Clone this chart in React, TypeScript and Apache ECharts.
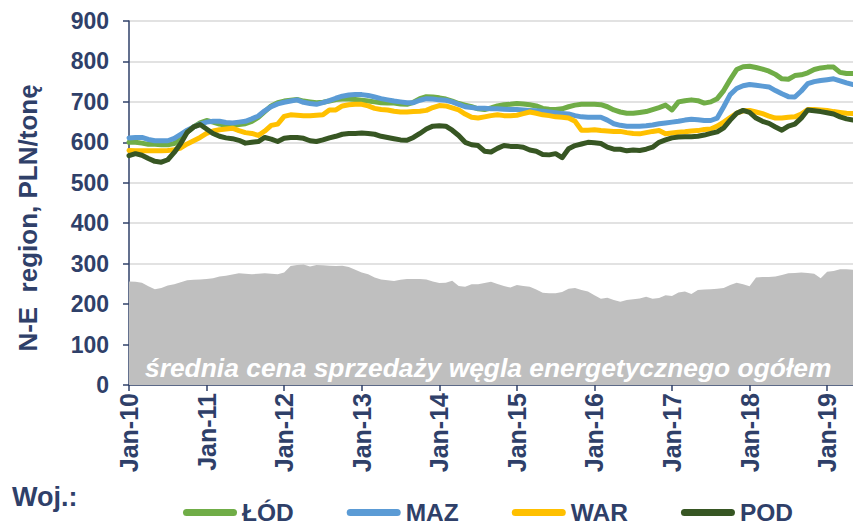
import React, { useEffect, useRef } from "react";
import * as echarts from "echarts";

const years = ["10", "11", "12", "13", "14", "15", "16", "17", "18", "19"];
const monthNames = ["Jan", "Feb", "Mar", "Apr", "May", "Jun", "Jul", "Aug", "Sep", "Oct", "Nov", "Dec"];
const lastMonthCount = 113;

const categories: string[] = [];
for (const y of years) {
  for (const m of monthNames) {
    if (categories.length < lastMonthCount) categories.push(`${m}-${y}`);
  }
}

const lod = [
  600, 600, 598, 595, 595, 594, 594, 597, 610, 625, 638, 648,
  654, 650, 645, 642, 642, 644, 646, 652, 662, 676, 690, 698,
  702, 704, 706, 702, 700, 698, 699, 702, 706, 707, 707, 706,
  704, 702, 700, 698, 697, 697, 695, 694, 699, 708, 713, 712,
  710, 707, 702, 696, 692, 688, 683, 681, 685, 690, 693, 694,
  696, 695, 693, 690, 684, 682, 681, 683, 688, 692, 694, 694,
  694, 693, 688, 680, 675, 672, 672, 674, 676, 681, 686, 692,
  680, 700, 703, 705, 703, 697, 700, 708, 728, 755, 780, 787,
  788, 785, 781, 776, 768, 757, 756, 765, 767, 772, 780, 784,
  786, 786, 773, 770, 770,
];

const maz = [
  611, 612, 612, 607, 604, 604, 604, 610, 620, 630, 638, 645,
  650, 652, 652, 649, 648, 650, 652, 658, 665, 678, 688, 695,
  699, 702, 705, 699, 696, 694, 698, 703, 709, 714, 717, 718,
  718, 716, 712, 708, 705, 702, 700, 698, 698, 704, 708, 707,
  705, 704, 700, 694, 688, 686, 684, 684, 683, 683, 682, 681,
  681, 680, 679, 678, 677, 675, 673, 671, 670, 666, 663, 662,
  662, 662, 655, 646, 642, 640, 640, 640, 641, 643, 646, 648,
  650, 652, 655, 657, 656, 654, 654, 660, 688, 718, 733, 740,
  743, 741, 739, 737, 728, 720, 713, 712, 727, 745, 750, 753,
  755, 757, 752, 747, 743,
];

const war = [
  580, 579, 579, 579, 579, 579, 580, 582, 586, 596, 604, 612,
  622, 628, 631, 633, 635, 629, 624, 622, 617, 628, 642, 645,
  664, 668, 667, 666, 666, 667, 668, 680, 680, 690, 693, 694,
  694, 690, 684, 681, 680, 677, 675, 675, 676, 677, 679, 686,
  691, 690, 685, 680, 670, 662, 660, 663, 666, 668, 666, 666,
  667, 671, 675, 672, 668, 666, 663, 662, 660, 652, 630, 630,
  631, 629, 628, 627, 627, 624, 622, 621, 624, 627, 629, 621,
  623, 625, 626, 628, 629, 632, 633, 640, 650, 661, 672, 678,
  679, 675, 671, 665, 660, 660, 662, 663, 670, 681, 681, 680,
  679, 676, 674, 672, 671,
];

const pod = [
  567, 572, 568, 560, 553, 551, 557, 575, 597, 625, 638, 644,
  633, 622, 615, 611, 609, 605, 598, 600, 602, 612, 608, 602,
  610, 612, 612, 610, 604, 602, 606, 611, 615, 620, 622, 622,
  623, 622, 620, 615, 612, 609, 606, 605, 612, 622, 633, 640,
  641, 640, 630, 617, 600, 594, 592, 578, 576, 585, 592, 590,
  590, 588, 581, 578, 570, 569, 572, 562, 584, 592, 596, 600,
  599, 597, 588, 583, 583, 579, 581, 580, 583, 588, 600, 606,
  611, 613, 614, 614, 615, 618, 622, 626, 636, 655, 672, 679,
  674, 660, 652, 647, 638, 630, 640, 645, 660, 680, 678, 676,
  673, 670, 663, 658, 655,
];

const avg = [
  256, 255, 253, 244, 237, 240, 246, 249, 254, 259, 260, 261,
  262, 264, 268, 270, 273, 276, 275, 274, 275, 276, 275, 274,
  278, 294, 297, 298, 293, 297, 296, 295, 294, 295, 292, 285,
  278, 274, 266, 261, 259, 257, 260, 262, 262, 262, 261, 256,
  252, 253, 258, 245, 243, 249, 249, 252, 255, 250, 245, 241,
  247, 245, 243, 236, 228, 227, 227, 230, 238, 240, 235, 231,
  222, 213, 216, 210, 206, 210, 212, 214, 218, 213, 215, 222,
  220, 229, 231, 225, 235, 236, 237, 238, 240, 247, 253, 249,
  244, 266, 267, 267, 268, 272, 276, 277, 278, 277, 275, 264,
  280, 282, 286, 286, 285,
];

const seriesNames = ["ŁÓD", "MAZ", "WAR", "POD"];
const seriesColors = ["#70AD47", "#5B9BD5", "#FFC000", "#375623"];
const seriesData = [lod, maz, war, pod];

const yTitle = "N-E  region, PLN/tonę";
const areaLabel = "średnia cena sprzedaży węgla energetycznego ogółem";
const legendTitle = "Woj.:";

const NAVY = "#2F4069";
const FONT = "'Liberation Sans', Arial, sans-serif";
const capsule = "path://M3.5,0L50.5,0A3.5,3.5,0,0,1,50.5,7L3.5,7A3.5,3.5,0,0,1,3.5,0Z";

export default function App() {
  const ref = useRef<HTMLDivElement>(null);
  useEffect(() => {
    if (!ref.current) return;
    const chart = echarts.init(ref.current, undefined, { renderer: "svg" });
    const janOnly = (index: number) => index % 12 === 0;
    chart.setOption({
      animation: false,
      backgroundColor: "#ffffff",
      textStyle: { fontFamily: FONT },
      grid: { left: 129, right: 0, top: 21, bottom: 141, outerBoundsMode: "none" },
      legend: {
        data: seriesNames,
        left: 183,
        top: 500,
        itemGap: 53,
        itemWidth: 54,
        itemHeight: 7,
        padding: 0,
        icon: capsule,
        textStyle: { color: NAVY, fontSize: 24.5, fontWeight: "bold", fontFamily: FONT },
      },
      xAxis: {
        type: "category",
        data: categories,
        boundaryGap: false,
        axisLine: { show: true, lineStyle: { color: NAVY, width: 1.5 } },
        axisTick: { show: true, interval: janOnly, length: 6, lineStyle: { color: NAVY, width: 1.5 } },
        axisLabel: {
          interval: janOnly,
          rotate: 90,
          margin: 8,
          color: NAVY,
          fontSize: 25,
          fontWeight: "bold",
          fontFamily: FONT,
        },
        splitLine: { show: false },
      },
      yAxis: {
        type: "value",
        min: 0,
        max: 900,
        interval: 100,
        axisLine: { show: true, lineStyle: { color: NAVY, width: 1.5 } },
        axisTick: { show: true, length: 6, lineStyle: { color: NAVY, width: 1.5 } },
        axisLabel: { margin: 20, color: NAVY, fontSize: 23, fontWeight: "bold", fontFamily: FONT },
        splitLine: { show: true, lineStyle: { color: "#D9D9D9", width: 1.5 } },
      },
      graphic: [
        {
          type: "text",
          x: 28,
          y: 218,
          rotation: Math.PI / 2,
          style: {
            text: yTitle,
            fill: NAVY,
            font: `bold 26px ${FONT}`,
            align: "center",
            verticalAlign: "middle",
          },
        },
        {
          type: "text",
          x: 145,
          y: 368,
          z: 100,
          style: {
            text: areaLabel,
            fill: "#ffffff",
            font: `italic bold 26.4px ${FONT}`,
            align: "left",
            verticalAlign: "middle",
          },
        },
        {
          type: "text",
          x: 12,
          y: 497,
          style: {
            text: legendTitle,
            fill: NAVY,
            font: `bold 27px ${FONT}`,
            align: "left",
            verticalAlign: "middle",
          },
        },
      ],
      series: [
        {
          name: "średnia",
          type: "line",
          data: avg,
          symbol: "none",
          lineStyle: { width: 0 },
          itemStyle: { color: "#BFBFBF" },
          areaStyle: { color: "#BFBFBF", opacity: 1 },
          z: 1,
          silent: true,
        },
        ...seriesNames.map((name, k) => ({
          name,
          type: "line",
          data: seriesData[k],
          symbol: "none",
          color: seriesColors[k],
          lineStyle: { width: 5, color: seriesColors[k], cap: "round", join: "round" },
          itemStyle: { color: seriesColors[k] },
          z: 2 + k,
        })),
      ],
    });
    return () => chart.dispose();
  }, []);
  return (
    <div
      ref={ref}
      style={{ position: "fixed", left: 0, top: 0, width: 853, height: 526 }}
    />
  );
}
